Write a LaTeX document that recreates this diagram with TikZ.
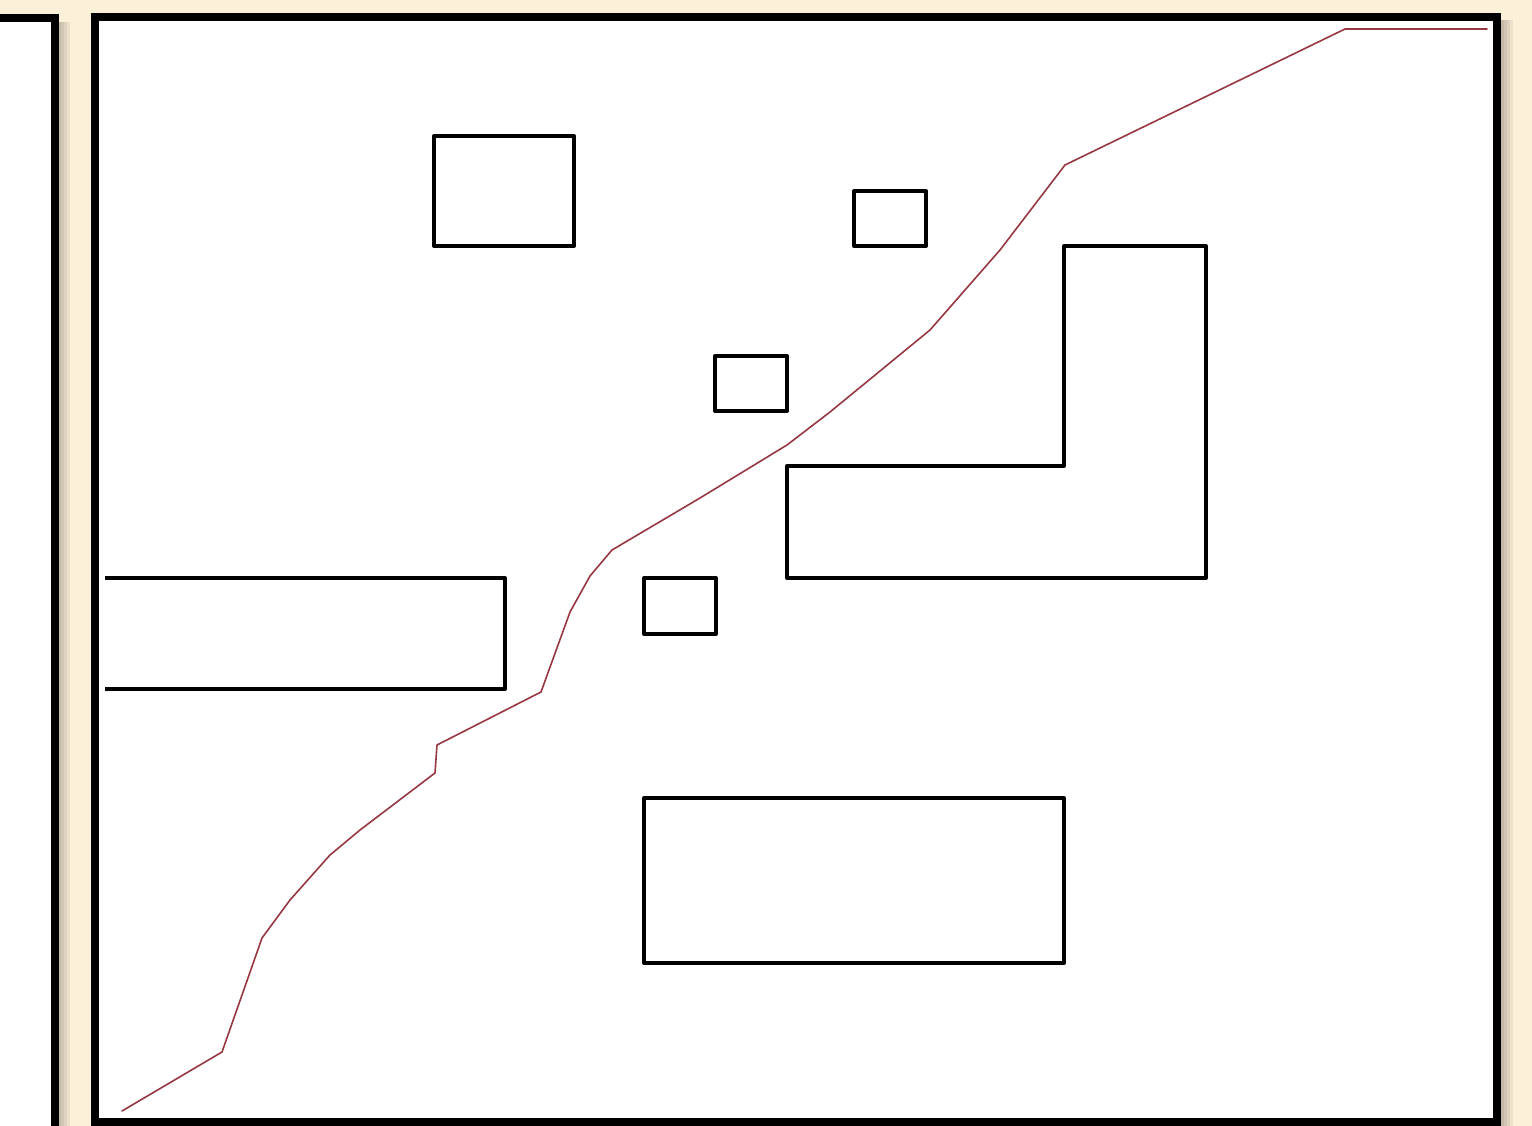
\documentclass[tikz,border=0pt]{standalone}
\usepackage{tikz}
\definecolor{cream}{RGB}{251,240,216}
\definecolor{pathred}{RGB}{150,55,65}
\begin{document}
\begin{tikzpicture}[x=1pt,y=-1pt, line join=miter,
		panel/.style={draw=black,line width=8pt,fill=white},
		obst/.style={draw=black,line width=4pt,line join=round},
		route/.style={draw=pathred,line width=1.6pt,line join=round,line cap=round}]
	% background
	\fill[cream] (0,0) rectangle (1532,1126);
	\useasboundingbox (0,0) rectangle (1532,1126);
	% shadows
	\foreach \s in {3,6,9,12,15}{
		\fill[black,opacity=0.06] (-20,22) rectangle (55+\s,1140);
		\fill[black,opacity=0.06] (95+\s,20) rectangle (1498+\s,1140);
	}
	% panels
	\draw[panel] (-20,18) rectangle (55,1140);
	\draw[panel] (95,17) rectangle (1497,1122);
	% obstacles
	\draw[obst] (434,136) rectangle (574,246);
	\draw[obst] (854,191) rectangle (926,246);
	\draw[obst] (715,356) rectangle (787,411);
	\draw[obst] (644,578) rectangle (716,634);
	\draw[obst] (644,798) rectangle (1064,963);
	\draw[obst] (105,578)--(505,578)--(505,689)--(105,689);
	\draw[obst] (1064,246)--(1206,246)--(1206,578)--(787,578)--(787,466)--(1064,466)--cycle;
	% path
	\draw[route] (122,1111)--(222,1052)--(262,938)--(290,900)--(330,855)--(360,830)
		--(435,773)--(437,745)--(541,692)--(570,612)--(590,576)--(612,550)
		--(700,498)--(787,445)--(830,412)--(930,330)--(1000,250)--(1065,165)
		--(1345,29)--(1487,29);
\end{tikzpicture}
\end{document}
